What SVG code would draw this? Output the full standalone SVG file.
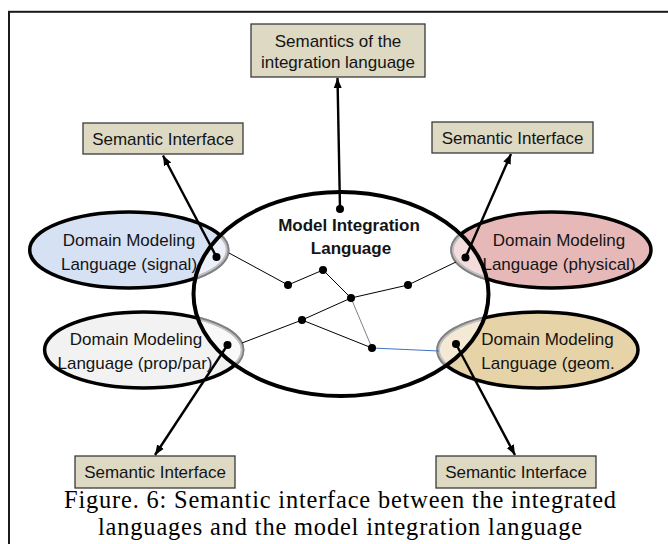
<svg xmlns="http://www.w3.org/2000/svg" width="668" height="544" viewBox="0 0 668 544">
<style>
.box{fill:#ddd9c3;stroke:#3a3a3a;stroke-width:1.3}
.lbl{font-family:"Liberation Sans",Arial,sans-serif;font-size:17px;fill:#141414;text-anchor:middle}
.bold{font-weight:bold}
.dom{stroke:#000;stroke-width:3.5}
.veil{fill:#fff;fill-opacity:0.5;stroke:#fff;stroke-opacity:0.5;stroke-width:3.6}
.thin{fill:none;stroke:#000;stroke-width:1}
.arr{fill:none;stroke:#000;stroke-width:2.4;marker-end:url(#ah)}
.dot{fill:#000}
.cap{font-family:"Liberation Serif","Times New Roman",serif;font-size:24.4px;fill:#000;text-anchor:middle}
</style>
<defs>
<clipPath id="inMain"><ellipse cx="341" cy="294" rx="147.5" ry="102"/></clipPath>
<marker id="ah" markerUnits="userSpaceOnUse" markerWidth="12" markerHeight="10" refX="10" refY="4" orient="auto" viewBox="0 0 12 8">
<path d="M0,0 L10,4 L0,8 z" fill="#000"/>
</marker>
</defs>
<rect x="9" y="11.8" width="680" height="560" fill="#fff" stroke="#1a1a1a" stroke-width="2"/>

<g id="dml-signal">
<ellipse class="dom" cx="128.7" cy="250" rx="99" ry="38" fill="#d6e1f3"/>
<ellipse class="veil" cx="128.7" cy="250" rx="99" ry="38" clip-path="url(#inMain)"/>
<text class="lbl" x="129" y="246">Domain Modeling</text>
<text class="lbl" x="129" y="270">Language (signal)</text>
</g>
<g id="dml-physical">
<ellipse class="dom" cx="551.5" cy="250" rx="99.5" ry="38" fill="#e6b9b8"/>
<ellipse class="veil" cx="551.5" cy="250" rx="99.5" ry="38" clip-path="url(#inMain)"/>
<text class="lbl" x="559" y="246">Domain Modeling</text>
<text class="lbl" x="559" y="270">Language (physical)</text>
</g>
<g id="dml-proppar">
<ellipse class="dom" cx="143.6" cy="350" rx="99" ry="38" fill="#f2f2f2"/>
<ellipse class="veil" cx="143.6" cy="350" rx="99" ry="38" clip-path="url(#inMain)"/>
<text class="lbl" x="136" y="345">Domain Modeling</text>
<text class="lbl" x="135" y="369">Language (prop/par)</text>
</g>
<g id="dml-geom">
<ellipse class="dom" cx="538" cy="350" rx="100" ry="38" fill="#e6d3a8"/>
<ellipse class="veil" cx="538" cy="350" rx="100" ry="38" clip-path="url(#inMain)"/>
<text class="lbl" x="547.5" y="345">Domain Modeling</text>
<text class="lbl" x="548" y="369">Language (geom.</text>
</g>
<g id="mil">
<ellipse cx="341" cy="294" rx="147.5" ry="102" fill="none" stroke="#000" stroke-width="4"/>
<text class="lbl bold" x="349" y="231">Model Integration</text>
<text class="lbl bold" x="351" y="254">Language</text>
</g>

<g id="sem-top">
<rect class="box" x="251" y="24" width="174" height="53"/>
<text class="lbl" x="338" y="47">Semantics of the</text>
<text class="lbl" x="338" y="68">integration language</text>
</g>
<g id="si-tl">
<rect class="box" x="83" y="123" width="160" height="31"/>
<text class="lbl" x="163" y="144.5">Semantic Interface</text>
</g>
<g id="si-tr">
<rect class="box" x="432" y="122" width="161" height="31"/>
<text class="lbl" x="512.5" y="143.5">Semantic Interface</text>
</g>
<g id="si-bl">
<rect class="box" x="75" y="456" width="160" height="32"/>
<text class="lbl" x="155" y="478">Semantic Interface</text>
</g>
<g id="si-br">
<rect class="box" x="436" y="456" width="160" height="32"/>
<text class="lbl" x="516" y="478">Semantic Interface</text>
</g>

<g id="connectors">
<polyline class="thin" points="229,253 288,285 323,270 351,298"/>
<polyline class="thin" points="351,298 408,285 456,262"/>
<polyline class="thin" points="351,298 302,320 242,343"/>
<line class="thin" x1="302" y1="320" x2="372" y2="348"/>
<line x1="351" y1="298" x2="372" y2="348" stroke="#808080" stroke-width="1"/>
<line x1="372" y1="348" x2="439" y2="351" stroke="#4472c4" stroke-width="1.2"/>
<line class="arr" x1="340" y1="209" x2="337.5" y2="78"/>
<line class="arr" x1="216.5" y1="257" x2="163" y2="155.5"/>
<line class="arr" x1="465.5" y1="257.5" x2="511" y2="154"/>
<line class="arr" x1="227.5" y1="345" x2="155" y2="455"/>
<line class="arr" x1="456" y1="344" x2="515" y2="455"/>
<circle class="dot" cx="340" cy="209" r="4"/>
<circle class="dot" cx="216.5" cy="257" r="4"/>
<circle class="dot" cx="465.5" cy="257.5" r="4"/>
<circle class="dot" cx="227.5" cy="345" r="4"/>
<circle class="dot" cx="456" cy="344" r="4"/>
<circle class="dot" cx="288" cy="285" r="4"/>
<circle class="dot" cx="323" cy="270" r="4"/>
<circle class="dot" cx="351" cy="298" r="4"/>
<circle class="dot" cx="408" cy="285" r="4"/>
<circle class="dot" cx="302" cy="320" r="4"/>
<circle class="dot" cx="372" cy="348" r="4"/>
</g>

<text class="cap" x="340" y="508" textLength="552" lengthAdjust="spacing">Figure. 6: Semantic interface between the integrated</text>
<text class="cap" x="340" y="535.3" textLength="484" lengthAdjust="spacing">languages and the model integration language</text>
</svg>
